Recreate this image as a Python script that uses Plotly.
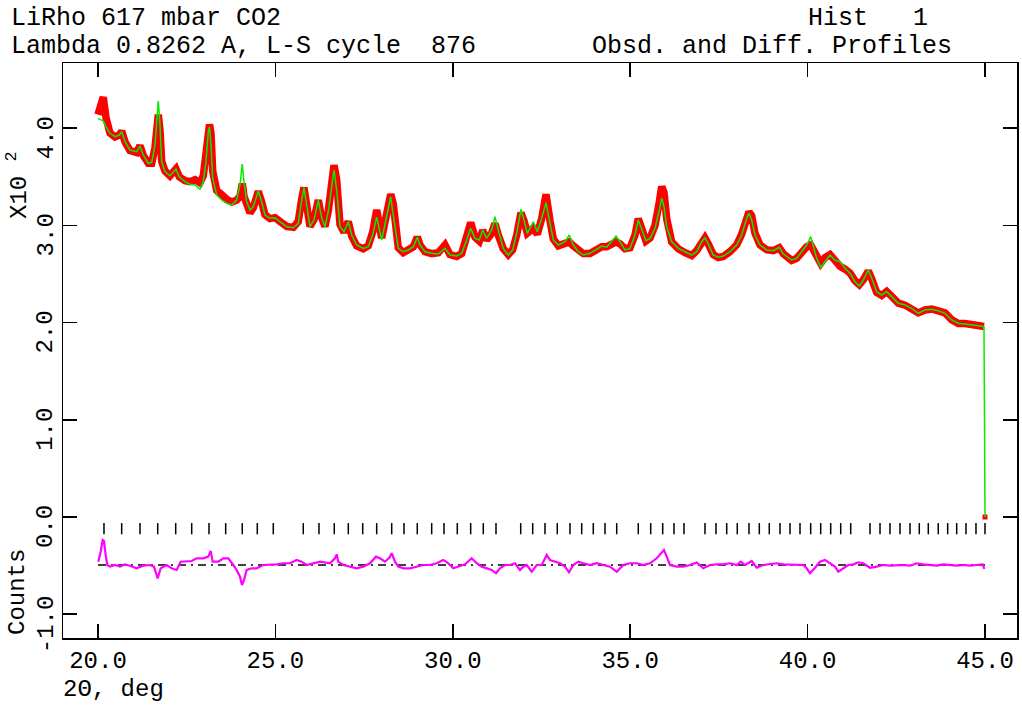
import plotly.graph_objects as go

# ---------------- data (2-theta in deg, intensities in units of 100 counts) -------------
two_theta = [
    20.000, 20.149, 20.225, 20.338, 20.479, 20.600, 20.668, 20.761, 20.902, 21.091,
    21.184, 21.277, 21.418, 21.514, 21.607, 21.654, 21.700, 21.747, 21.795, 21.888,
    22.029, 22.198, 22.291, 22.452, 22.593, 22.734, 22.875, 22.968, 23.044, 23.109,
    23.143, 23.185, 23.233, 23.346, 23.486, 23.625, 23.768, 23.909, 24.002, 24.067,
    24.115, 24.191, 24.284, 24.377, 24.518, 24.614, 24.707, 24.848, 24.989, 25.130,
    25.318, 25.505, 25.645, 25.741, 25.806, 25.882, 25.975, 26.088, 26.209, 26.305,
    26.398, 26.491, 26.539, 26.652, 26.728, 26.821, 26.934, 27.055, 27.151, 27.291,
    27.477, 27.618, 27.742, 27.855, 27.996, 28.137, 28.250, 28.323, 28.464, 28.605,
    28.746, 28.887, 28.999, 29.076, 29.216, 29.405, 29.591, 29.780, 29.921, 30.110,
    30.251, 30.392, 30.505, 30.626, 30.747, 30.843, 30.956, 31.097, 31.189, 31.282,
    31.423, 31.564, 31.688, 31.801, 31.922, 32.007, 32.100, 32.269, 32.382, 32.506,
    32.627, 32.740, 32.833, 32.974, 33.162, 33.284, 33.396, 33.537, 33.678, 33.867,
    34.008, 34.197, 34.338, 34.479, 34.600, 34.713, 34.853, 34.994, 35.135, 35.228,
    35.324, 35.445, 35.558, 35.699, 35.820, 35.888, 35.953, 36.029, 36.170, 36.356,
    36.545, 36.733, 36.874, 37.015, 37.108, 37.201, 37.342, 37.483, 37.624, 37.813,
    38.002, 38.143, 38.283, 38.348, 38.424, 38.517, 38.658, 38.847, 39.033, 39.202,
    39.315, 39.551, 39.690, 39.833, 39.974, 40.087, 40.160, 40.256, 40.369, 40.490,
    40.631, 40.772, 40.913, 41.054, 41.195, 41.336, 41.457, 41.570, 41.711, 41.807,
    41.948, 42.088, 42.229, 42.370, 42.556, 42.745, 42.934, 43.120, 43.309, 43.497,
    43.683, 43.872, 44.061, 44.247, 44.436, 44.625, 44.811, 44.972,
]

calc = [
    4.102, 4.074, 4.015, 3.948, 3.913, 3.930, 3.964, 3.861, 3.776, 3.758,
    3.817, 3.724, 3.639, 3.649, 3.827, 4.033, 4.280, 4.033, 3.655, 3.553,
    3.511, 3.580, 3.501, 3.450, 3.423, 3.416, 3.374, 3.450, 3.655, 3.964,
    4.012, 3.827, 3.487, 3.313, 3.261, 3.227, 3.210, 3.261, 3.416, 3.632,
    3.450, 3.244, 3.158, 3.192, 3.354, 3.244, 3.107, 3.073, 3.079, 3.038,
    2.987, 2.976, 3.022, 3.261, 3.388, 3.210, 2.987, 3.056, 3.261, 3.076,
    2.987, 3.141, 3.261, 3.570, 3.364, 2.987, 2.935, 3.038, 2.901, 2.798,
    2.764, 2.781, 2.901, 3.086, 2.850, 3.090, 3.295, 3.107, 2.764, 2.729,
    2.747, 2.781, 2.878, 2.798, 2.729, 2.713, 2.706, 2.764, 2.695, 2.685,
    2.713, 2.850, 2.970, 2.867, 2.850, 2.953, 2.867, 2.953, 3.090, 2.953,
    2.764, 2.695, 2.747, 2.919, 3.166, 3.056, 2.919, 3.038, 2.935, 3.073,
    3.234, 3.022, 2.850, 2.798, 2.832, 2.901, 2.798, 2.729, 2.695, 2.713,
    2.747, 2.788, 2.775, 2.832, 2.891, 2.832, 2.747, 2.764, 2.901, 3.056,
    2.953, 2.843, 2.867, 2.970, 3.158, 3.279, 3.192, 2.987, 2.832, 2.764,
    2.729, 2.695, 2.729, 2.832, 2.873, 2.809, 2.695, 2.672, 2.685, 2.729,
    2.798, 2.901, 3.073, 3.124, 3.056, 2.901, 2.798, 2.747, 2.740, 2.775,
    2.706, 2.644, 2.661, 2.729, 2.798, 2.884, 2.798, 2.661, 2.569, 2.627,
    2.695, 2.644, 2.627, 2.559, 2.507, 2.421, 2.377, 2.438, 2.541, 2.456,
    2.318, 2.284, 2.318, 2.267, 2.199, 2.181, 2.147, 2.096, 2.130, 2.137,
    2.122, 2.096, 2.027, 1.993, 1.986, 1.975, 1.968, 1.958,
]

obs = [
    4.14, 4.32, 4.11, 3.95, 3.91, 3.93, 3.97, 3.86, 3.77, 3.75,
    3.82, 3.72, 3.64, 3.64, 3.80, 3.98, 4.14, 3.98, 3.66, 3.56,
    3.51, 3.58, 3.50, 3.46, 3.45, 3.47, 3.44, 3.51, 3.70, 3.99,
    4.04, 3.95, 3.56, 3.36, 3.30, 3.27, 3.24, 3.26, 3.30, 3.43,
    3.30, 3.19, 3.13, 3.18, 3.35, 3.24, 3.11, 3.07, 3.08, 3.04,
    2.99, 2.98, 3.04, 3.27, 3.39, 3.21, 2.99, 3.06, 3.26, 3.08,
    2.99, 3.15, 3.29, 3.62, 3.47, 3.01, 2.93, 3.04, 2.89, 2.79,
    2.76, 2.79, 2.93, 3.16, 2.87, 3.12, 3.32, 3.22, 2.77, 2.72,
    2.74, 2.78, 2.88, 2.80, 2.73, 2.71, 2.72, 2.80, 2.70, 2.68,
    2.71, 2.87, 3.03, 2.88, 2.84, 2.95, 2.85, 2.92, 3.02, 2.90,
    2.76, 2.70, 2.75, 2.90, 3.13, 3.05, 2.92, 2.97, 2.91, 3.07,
    3.32, 3.05, 2.86, 2.79, 2.82, 2.83, 2.79, 2.74, 2.71, 2.71,
    2.75, 2.78, 2.78, 2.81, 2.83, 2.81, 2.76, 2.77, 2.90, 3.07,
    2.95, 2.84, 2.87, 3.00, 3.24, 3.40, 3.34, 3.07, 2.83, 2.76,
    2.72, 2.69, 2.74, 2.82, 2.87, 2.81, 2.70, 2.67, 2.68, 2.73,
    2.80, 2.91, 3.09, 3.14, 3.10, 2.92, 2.80, 2.75, 2.74, 2.77,
    2.71, 2.64, 2.66, 2.73, 2.78, 2.80, 2.75, 2.66, 2.61, 2.67,
    2.70, 2.64, 2.58, 2.55, 2.51, 2.43, 2.39, 2.44, 2.53, 2.45,
    2.31, 2.28, 2.32, 2.27, 2.20, 2.18, 2.15, 2.10, 2.13, 2.14,
    2.12, 2.10, 2.03, 1.99, 1.99, 1.98, 1.97, 1.96,
]

# last profile point (calc drops to zero at 45.0 deg, obs point at zero)
end_two_theta = 45.0
end_calc = 0.0
end_obs = 0.0

# difference curve (offset in the lower part of the plot)
diff_two_theta = [
    20.008, 20.076, 20.132, 20.169, 20.217, 20.262, 20.338, 20.479, 20.620, 20.761,
    20.902, 21.091, 21.277, 21.466, 21.578, 21.683, 21.767, 21.936, 22.077, 22.218,
    22.331, 22.500, 22.641, 22.782, 22.968, 23.109, 23.176, 23.233, 23.391, 23.532,
    23.673, 23.813, 23.909, 24.002, 24.059, 24.115, 24.191, 24.332, 24.473, 24.659,
    24.848, 25.037, 25.223, 25.411, 25.600, 25.741, 25.882, 26.068, 26.257, 26.539,
    26.680, 26.728, 26.773, 26.914, 27.103, 27.291, 27.477, 27.666, 27.835, 27.948,
    28.089, 28.210, 28.278, 28.371, 28.464, 28.605, 28.794, 28.983, 29.169, 29.357,
    29.546, 29.732, 29.873, 30.014, 30.155, 30.344, 30.533, 30.674, 30.815, 30.956,
    31.097, 31.218, 31.330, 31.471, 31.612, 31.753, 31.894, 31.987, 32.083, 32.224,
    32.365, 32.506, 32.647, 32.740, 32.881, 33.022, 33.162, 33.275, 33.396, 33.537,
    33.678, 33.867, 34.056, 34.242, 34.431, 34.620, 34.806, 34.994, 35.183, 35.369,
    35.558, 35.747, 35.888, 35.953, 36.029, 36.122, 36.311, 36.497, 36.686, 36.874,
    37.060, 37.249, 37.438, 37.624, 37.813, 38.002, 38.114, 38.236, 38.425, 38.566,
    38.752, 38.941, 39.130, 39.316, 39.504, 39.693, 39.879, 39.975, 40.068, 40.209,
    40.349, 40.490, 40.631, 40.772, 40.865, 41.006, 41.147, 41.288, 41.429, 41.570,
    41.759, 41.948, 42.134, 42.322, 42.511, 42.697, 42.886, 43.075, 43.261, 43.450,
    43.639, 43.825, 44.013, 44.202, 44.389, 44.577, 44.765, 44.935, 44.980,
]

diff = [
    -0.460, -0.357, -0.237, -0.247, -0.391, -0.494, -0.511, -0.494, -0.511, -0.487,
    -0.501, -0.528, -0.501, -0.494, -0.511, -0.631, -0.528, -0.494, -0.528, -0.545,
    -0.460, -0.460, -0.453, -0.425, -0.425, -0.408, -0.350, -0.460, -0.460, -0.425,
    -0.425, -0.494, -0.545, -0.614, -0.700, -0.648, -0.545, -0.528, -0.528, -0.494,
    -0.494, -0.487, -0.476, -0.476, -0.442, -0.460, -0.494, -0.476, -0.460, -0.476,
    -0.425, -0.384, -0.460, -0.494, -0.511, -0.528, -0.511, -0.476, -0.408, -0.425,
    -0.460, -0.419, -0.373, -0.460, -0.511, -0.528, -0.528, -0.511, -0.494, -0.494,
    -0.476, -0.442, -0.476, -0.528, -0.511, -0.487, -0.425, -0.476, -0.511, -0.528,
    -0.545, -0.579, -0.528, -0.494, -0.494, -0.476, -0.545, -0.511, -0.494, -0.563,
    -0.494, -0.494, -0.391, -0.442, -0.460, -0.476, -0.511, -0.569, -0.494, -0.460,
    -0.476, -0.494, -0.476, -0.494, -0.511, -0.563, -0.494, -0.476, -0.476, -0.494,
    -0.476, -0.425, -0.373, -0.340, -0.408, -0.494, -0.511, -0.511, -0.494, -0.468,
    -0.528, -0.494, -0.487, -0.487, -0.476, -0.494, -0.460, -0.494, -0.453, -0.522,
    -0.494, -0.487, -0.476, -0.487, -0.487, -0.494, -0.494, -0.528, -0.579, -0.522,
    -0.460, -0.442, -0.476, -0.511, -0.563, -0.528, -0.494, -0.487, -0.466, -0.476,
    -0.522, -0.511, -0.494, -0.501, -0.494, -0.494, -0.501, -0.476, -0.487, -0.494,
    -0.501, -0.487, -0.494, -0.501, -0.494, -0.501, -0.494, -0.487, -0.535,
]

diff_zero = -0.494          # zero level of the difference curve
diff_zero_range = [20.0, 45.0]

# reflection positions
refl_two_theta = [
    20.169, 20.668, 21.184, 21.683, 22.190, 22.641, 23.129, 23.599, 24.067, 24.490,
    24.941, 25.786, 26.229, 26.660, 27.055, 27.461, 27.855, 28.278, 28.625, 28.999,
    29.405, 29.752, 30.127, 30.504, 30.860, 31.218, 31.914, 32.252, 32.599, 32.945,
    33.303, 33.633, 33.960, 34.290, 34.620, 35.228, 35.578, 35.916, 36.235, 36.516,
    37.108, 37.418, 37.720, 38.018, 38.348, 38.639, 38.920, 39.222, 39.504, 39.786,
    40.087, 40.369, 40.651, 40.933, 41.215, 41.759, 42.041, 42.322, 42.604, 42.886,
    43.148, 43.402, 43.683, 43.948, 44.202, 44.464, 44.746, 45.000,
]
refl_level = -0.12

x_ticks = [20.0, 25.0, 30.0, 35.0, 40.0, 45.0]
x_tick_labels = ["20.0", "25.0", "30.0", "35.0", "40.0", "45.0"]
y_ticks = [-1.0, 0.0, 1.0, 2.0, 3.0, 4.0]
y_tick_labels = ["-1.0", "0.0", "1.0", "2.0", "3.0", "4.0"]

title_left_1 = "LiRho 617 mbar CO2"
title_left_2 = "Lambda 0.8262 A, L-S cycle  876"
title_right_1 = "Hist   1"
title_right_2 = "Obsd. and Diff. Profiles"
x_title = "2\u0398, deg"
y_title_upper = "X10 <sup>2</sup>"
y_title_lower = "Counts"

# ---------------- layout geometry ----------------
W, H = 1022, 710
ML, MR, MT, MB = 63, 5, 63, 72
PW, PH = W - ML - MR, H - MT - MB
FONT = "Liberation Mono"


def px_x(px):
    """page pixel -> paper x"""
    return (px - ML) / PW


def px_y(py):
    """page pixel -> paper y"""
    return (H - MB - py) / PH


fig = go.Figure()

# observed (red band)
fig.add_trace(go.Scatter(x=two_theta, y=obs, mode="lines",
                         line=dict(color="#ff0000", width=7.5), hoverinfo="skip"))
fig.add_trace(go.Scatter(x=[end_two_theta], y=[end_obs], mode="markers",
                         marker=dict(color="#ff0000", size=5, symbol="square"), hoverinfo="skip"))
# calculated (green)
fig.add_trace(go.Scatter(x=two_theta + [end_two_theta], y=calc + [end_calc], mode="lines",
                         line=dict(color="#00ee00", width=1.5), hoverinfo="skip"))
# zero line of difference
fig.add_trace(go.Scatter(x=diff_zero_range, y=[diff_zero, diff_zero], mode="lines",
                         line=dict(color="black", width=1.5, dash="8px,5px,2px,5px"), hoverinfo="skip"))
# difference (magenta)
fig.add_trace(go.Scatter(x=diff_two_theta, y=diff, mode="lines",
                         line=dict(color="#ff00ff", width=2.2), hoverinfo="skip"))
# reflection ticks
fig.add_trace(go.Scatter(x=refl_two_theta, y=[refl_level] * len(refl_two_theta), mode="markers",
                         marker=dict(symbol="line-ns-open", size=8, color="black",
                                     line=dict(color="black", width=1.5)), hoverinfo="skip"))

axis_common = dict(showgrid=False, zeroline=False, showline=True, mirror="ticks",
                   linecolor="black", linewidth=1.5, ticks="inside", ticklen=14,
                   tickwidth=1.5, tickcolor="black", automargin=False,
                   tickfont=dict(family=FONT, size=24, color="black"))

fig.update_layout(
    width=W, height=H,
    margin=dict(l=ML, r=MR, t=MT, b=MB, autoexpand=False),
    paper_bgcolor="white", plot_bgcolor="white",
    showlegend=False,
    hovermode=False,
    xaxis=dict(range=[19.014, 45.902], tickmode="array", tickvals=x_ticks,
               ticktext=x_tick_labels, ticklabelstandoff=0, **axis_common),
    yaxis=dict(range=[-1.245, 4.671], tickmode="array", tickvals=y_ticks,
               showticklabels=False, **axis_common),
    font=dict(family=FONT, color="black"),
)

# y tick labels (rotated, drawn slightly below their ticks as in the original)
for v, lab in zip(y_ticks, y_tick_labels):
    fig.add_annotation(text=lab, xref="paper", yref="y", x=px_x(46), y=v, yshift=-10,
                       xanchor="center", yanchor="middle", showarrow=False, textangle=-90,
                       font=dict(family=FONT, size=24, color="black"))

ann_font = dict(family=FONT, size=25, color="black")
fig.add_annotation(text=title_left_1, xref="paper", yref="paper", x=px_x(9), y=px_y(18),
                   xanchor="left", yanchor="middle", showarrow=False, font=ann_font)
fig.add_annotation(text=title_left_2, xref="paper", yref="paper", x=px_x(9), y=px_y(46),
                   xanchor="left", yanchor="middle", showarrow=False, font=ann_font)
fig.add_annotation(text=title_right_1, xref="paper", yref="paper", x=px_x(868), y=px_y(18),
                   xanchor="center", yanchor="middle", showarrow=False, font=ann_font)
fig.add_annotation(text=title_right_2, xref="paper", yref="paper", x=px_x(772), y=px_y(46),
                   xanchor="center", yanchor="middle", showarrow=False, font=ann_font)
fig.add_annotation(text=x_title, xref="paper", yref="paper", x=px_x(61), y=px_y(689),
                   xanchor="left", yanchor="middle", showarrow=False,
                   font=dict(family=FONT, size=24, color="black"))
fig.add_annotation(text=y_title_upper, xref="paper", yref="paper", x=px_x(18), y=px_y(185),
                   xanchor="center", yanchor="middle", showarrow=False, textangle=-90,
                   font=dict(family=FONT, size=24, color="black"))
fig.add_annotation(text=y_title_lower, xref="paper", yref="paper", x=px_x(17), y=px_y(592),
                   xanchor="center", yanchor="middle", showarrow=False, textangle=-90,
                   font=dict(family=FONT, size=24, color="black"))

# the page's default 8px body margin would shift the figure; remove it
fig.write_html("out.html", config={"displayModeBar": False, "staticPlot": True},
               post_script="document.body.style.margin='0px';")
